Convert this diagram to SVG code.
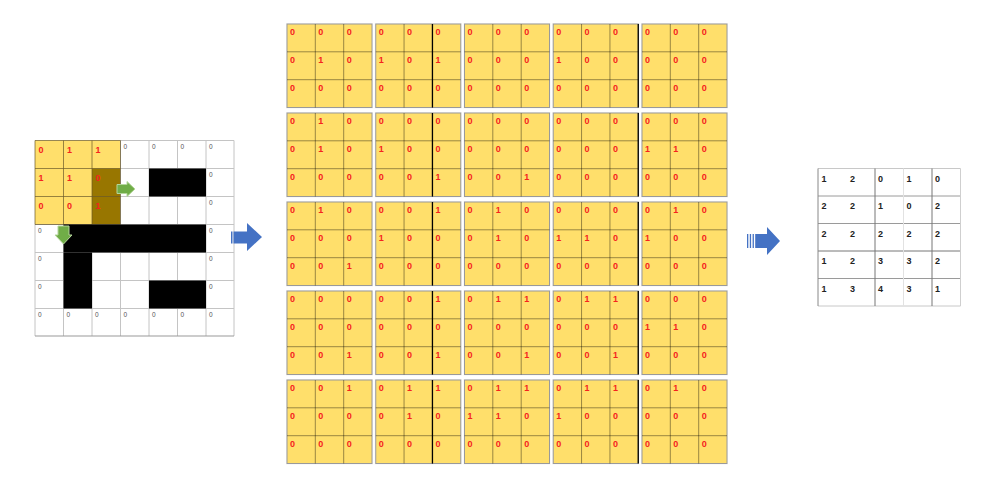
<svg xmlns="http://www.w3.org/2000/svg" xmlns:xlink="http://www.w3.org/1999/xlink" width="983" height="482" viewBox="0 0 983 482">
<style>
.r{font-family:"Liberation Sans",Arial,sans-serif;font-size:9px;font-weight:bold;fill:#f5231e}
.z{font-family:"Liberation Sans",Arial,sans-serif;font-size:6.5px;fill:#555}
.n{font-family:"Liberation Sans",Arial,sans-serif;font-size:9px;font-weight:bold;fill:#222}
.gl{stroke:#c4c4c4;stroke-width:1}
.yl{stroke:#6b5a2a;stroke-width:1;stroke-opacity:0.7}
.il{stroke:#000;stroke-opacity:0.4;stroke-width:1}
.dk{stroke:#000;stroke-width:1.3}
.ga{fill:#70ad47;stroke:#b5d69c;stroke-width:1}
.ba{fill:#4472c4}
</style>
<defs>
<g id="blk">
<rect x="-1" y="-1" width="87" height="85.5" fill="#f4f4f4"/>
<rect width="85" height="83.5" fill="#ffdf6b" stroke="#9a9a9a" stroke-width="1"/>
<line x1="28.3" y1="0" x2="28.3" y2="83.5" class="il"/>
<line x1="56.7" y1="0" x2="56.7" y2="83.5" class="il" stroke-opacity="0.25"/>
<line x1="0" y1="27.8" x2="85" y2="27.8" class="il"/>
<line x1="0" y1="55.7" x2="85" y2="55.7" class="il"/>
</g>
</defs>
<rect width="983" height="482" fill="#fff"/>

<g id="left-grid">
<rect x="35" y="140.5" width="199" height="195.5" fill="#fff"/>
<rect x="35" y="140.5" width="85.5" height="84" fill="#ffdf6b"/>
<rect x="92" y="168.5" width="28.5" height="56" fill="#987600"/>
<g class="gl">
<line x1="120.5" y1="140.5" x2="120.5" y2="336"/><line x1="149" y1="140.5" x2="149" y2="336"/>
<line x1="177.5" y1="140.5" x2="177.5" y2="336"/><line x1="206" y1="140.5" x2="206" y2="336"/>
<line x1="234" y1="140.5" x2="234" y2="336"/>
<line x1="35" y1="224.5" x2="35" y2="336"/><line x1="63.5" y1="224.5" x2="63.5" y2="336"/><line x1="92" y1="224.5" x2="92" y2="336"/>
<line x1="120.5" y1="140.5" x2="234" y2="140.5"/><line x1="120.5" y1="168.5" x2="234" y2="168.5"/>
<line x1="120.5" y1="196.5" x2="234" y2="196.5"/><line x1="35" y1="224.5" x2="234" y2="224.5"/>
<line x1="35" y1="252.5" x2="234" y2="252.5"/><line x1="35" y1="280.5" x2="234" y2="280.5"/>
<line x1="35" y1="308.5" x2="234" y2="308.5"/><line x1="35" y1="336" x2="234" y2="336" stroke="#999"/>
</g>
<g class="yl">
<line x1="35" y1="140.5" x2="35" y2="224.5"/><line x1="63.5" y1="140.5" x2="63.5" y2="224.5"/>
<line x1="92" y1="140.5" x2="92" y2="224.5"/><line x1="120.5" y1="140.5" x2="120.5" y2="224.5"/>
<line x1="35" y1="140.5" x2="120.5" y2="140.5"/><line x1="35" y1="168.5" x2="120.5" y2="168.5"/>
<line x1="35" y1="196.5" x2="120.5" y2="196.5"/><line x1="35" y1="224.5" x2="120.5" y2="224.5"/>
</g>
<g fill="#000">
<rect x="149" y="168.5" width="57" height="28"/>
<rect x="63.5" y="224.5" width="142.5" height="28"/>
<rect x="63.5" y="252.5" width="28.5" height="56"/>
<rect x="149" y="280.5" width="57" height="28"/>
</g>
<text class="r" font-size="9.5"><tspan x="38.5 67 95.5" y="152.5">011</tspan><tspan x="38.5 67 95.5" y="180.5">110</tspan><tspan x="38.5 67 95.5" y="208.5">001</tspan></text>
<text class="z">
<tspan x="123.5 152 180.5 209" y="148.5">0000</tspan>
<tspan x="209" y="176.5">0</tspan>
<tspan x="209" y="204.5">0</tspan>
<tspan x="38 209" y="232.5">00</tspan>
<tspan x="38 209" y="260.5">00</tspan>
<tspan x="38 209" y="288.5">00</tspan>
<tspan x="38 66.5 95 123.5 152 180.5 209" y="316.5">0000000</tspan>
</text>
</g>

<g id="green-arrows">
<polygon class="ga" points="117,184.5 127,184.5 127,181.5 135,189 127,196.5 127,193.5 117,193.5"/>
<polygon class="ga" points="58,226 69,226 69,235 72,235 63.5,244 55,235 58,235"/>
</g>

<g id="blue-arrow-1">
<rect class="ba" x="231" y="231.5" width="1.5" height="12"/>
<polygon class="ba" points="233.5,231.5 247,231.5 247,223 262,237 247,251 247,243.5 233.5,243.5"/>
</g>

<g id="middle-grid">
<!-- block row 0 -->
<g id="b00" transform="translate(287,24)"><use xlink:href="#blk"/><text class="r"><tspan x="3 31.3 59.7" y="11">000</tspan><tspan x="3 31.3 59.7" y="38.8">010</tspan><tspan x="3 31.3 59.7" y="66.7">000</tspan></text></g>
<g id="b01" transform="translate(375.75,24)"><use xlink:href="#blk"/><line x1="56.7" y1="0" x2="56.7" y2="83.5" class="dk"/><text class="r"><tspan x="3 31.3 59.7" y="11">000</tspan><tspan x="3 31.3 59.7" y="38.8">101</tspan><tspan x="3 31.3 59.7" y="66.7">000</tspan></text></g>
<g id="b02" transform="translate(464.5,24)"><use xlink:href="#blk"/><text class="r"><tspan x="3 31.3 59.7" y="11">000</tspan><tspan x="3 31.3 59.7" y="38.8">000</tspan><tspan x="3 31.3 59.7" y="66.7">000</tspan></text></g>
<g id="b03" transform="translate(553.25,24)"><use xlink:href="#blk"/><line x1="85" y1="0" x2="85" y2="83.5" class="dk"/><text class="r"><tspan x="3 31.3 59.7" y="11">000</tspan><tspan x="3 31.3 59.7" y="38.8">100</tspan><tspan x="3 31.3 59.7" y="66.7">000</tspan></text></g>
<g id="b04" transform="translate(642,24)"><use xlink:href="#blk"/><text class="r"><tspan x="3 31.3 59.7" y="11">000</tspan><tspan x="3 31.3 59.7" y="38.8">000</tspan><tspan x="3 31.3 59.7" y="66.7">000</tspan></text></g>
<!-- block row 1 -->
<g id="b10" transform="translate(287,113)"><use xlink:href="#blk"/><text class="r"><tspan x="3 31.3 59.7" y="11">010</tspan><tspan x="3 31.3 59.7" y="38.8">010</tspan><tspan x="3 31.3 59.7" y="66.7">000</tspan></text></g>
<g id="b11" transform="translate(375.75,113)"><use xlink:href="#blk"/><line x1="56.7" y1="0" x2="56.7" y2="83.5" class="dk"/><text class="r"><tspan x="3 31.3 59.7" y="11">000</tspan><tspan x="3 31.3 59.7" y="38.8">100</tspan><tspan x="3 31.3 59.7" y="66.7">001</tspan></text></g>
<g id="b12" transform="translate(464.5,113)"><use xlink:href="#blk"/><text class="r"><tspan x="3 31.3 59.7" y="11">000</tspan><tspan x="3 31.3 59.7" y="38.8">000</tspan><tspan x="3 31.3 59.7" y="66.7">001</tspan></text></g>
<g id="b13" transform="translate(553.25,113)"><use xlink:href="#blk"/><line x1="85" y1="0" x2="85" y2="83.5" class="dk"/><text class="r"><tspan x="3 31.3 59.7" y="11">000</tspan><tspan x="3 31.3 59.7" y="38.8">000</tspan><tspan x="3 31.3 59.7" y="66.7">000</tspan></text></g>
<g id="b14" transform="translate(642,113)"><use xlink:href="#blk"/><text class="r"><tspan x="3 31.3 59.7" y="11">000</tspan><tspan x="3 31.3 59.7" y="38.8">110</tspan><tspan x="3 31.3 59.7" y="66.7">000</tspan></text></g>
<!-- block row 2 -->
<g id="b20" transform="translate(287,202)"><use xlink:href="#blk"/><text class="r"><tspan x="3 31.3 59.7" y="11">010</tspan><tspan x="3 31.3 59.7" y="38.8">000</tspan><tspan x="3 31.3 59.7" y="66.7">001</tspan></text></g>
<g id="b21" transform="translate(375.75,202)"><use xlink:href="#blk"/><line x1="56.7" y1="0" x2="56.7" y2="83.5" class="dk"/><text class="r"><tspan x="3 31.3 59.7" y="11">001</tspan><tspan x="3 31.3 59.7" y="38.8">100</tspan><tspan x="3 31.3 59.7" y="66.7">000</tspan></text></g>
<g id="b22" transform="translate(464.5,202)"><use xlink:href="#blk"/><text class="r"><tspan x="3 31.3 59.7" y="11">010</tspan><tspan x="3 31.3 59.7" y="38.8">010</tspan><tspan x="3 31.3 59.7" y="66.7">000</tspan></text></g>
<g id="b23" transform="translate(553.25,202)"><use xlink:href="#blk"/><line x1="85" y1="0" x2="85" y2="83.5" class="dk"/><text class="r"><tspan x="3 31.3 59.7" y="11">000</tspan><tspan x="3 31.3 59.7" y="38.8">110</tspan><tspan x="3 31.3 59.7" y="66.7">000</tspan></text></g>
<g id="b24" transform="translate(642,202)"><use xlink:href="#blk"/><text class="r"><tspan x="3 31.3 59.7" y="11">010</tspan><tspan x="3 31.3 59.7" y="38.8">100</tspan><tspan x="3 31.3 59.7" y="66.7">000</tspan></text></g>
<!-- block row 3 -->
<g id="b30" transform="translate(287,291)"><use xlink:href="#blk"/><text class="r"><tspan x="3 31.3 59.7" y="11">000</tspan><tspan x="3 31.3 59.7" y="38.8">000</tspan><tspan x="3 31.3 59.7" y="66.7">001</tspan></text></g>
<g id="b31" transform="translate(375.75,291)"><use xlink:href="#blk"/><line x1="56.7" y1="0" x2="56.7" y2="83.5" class="dk"/><text class="r"><tspan x="3 31.3 59.7" y="11">001</tspan><tspan x="3 31.3 59.7" y="38.8">000</tspan><tspan x="3 31.3 59.7" y="66.7">001</tspan></text></g>
<g id="b32" transform="translate(464.5,291)"><use xlink:href="#blk"/><text class="r"><tspan x="3 31.3 59.7" y="11">011</tspan><tspan x="3 31.3 59.7" y="38.8">000</tspan><tspan x="3 31.3 59.7" y="66.7">001</tspan></text></g>
<g id="b33" transform="translate(553.25,291)"><use xlink:href="#blk"/><line x1="85" y1="0" x2="85" y2="83.5" class="dk"/><text class="r"><tspan x="3 31.3 59.7" y="11">011</tspan><tspan x="3 31.3 59.7" y="38.8">000</tspan><tspan x="3 31.3 59.7" y="66.7">001</tspan></text></g>
<g id="b34" transform="translate(642,291)"><use xlink:href="#blk"/><text class="r"><tspan x="3 31.3 59.7" y="11">000</tspan><tspan x="3 31.3 59.7" y="38.8">110</tspan><tspan x="3 31.3 59.7" y="66.7">000</tspan></text></g>
<!-- block row 4 -->
<g id="b40" transform="translate(287,380)"><use xlink:href="#blk"/><text class="r"><tspan x="3 31.3 59.7" y="11">001</tspan><tspan x="3 31.3 59.7" y="38.8">000</tspan><tspan x="3 31.3 59.7" y="66.7">000</tspan></text></g>
<g id="b41" transform="translate(375.75,380)"><use xlink:href="#blk"/><line x1="56.7" y1="0" x2="56.7" y2="83.5" class="dk"/><text class="r"><tspan x="3 31.3 59.7" y="11">011</tspan><tspan x="3 31.3 59.7" y="38.8">010</tspan><tspan x="3 31.3 59.7" y="66.7">000</tspan></text></g>
<g id="b42" transform="translate(464.5,380)"><use xlink:href="#blk"/><text class="r"><tspan x="3 31.3 59.7" y="11">011</tspan><tspan x="3 31.3 59.7" y="38.8">110</tspan><tspan x="3 31.3 59.7" y="66.7">000</tspan></text></g>
<g id="b43" transform="translate(553.25,380)"><use xlink:href="#blk"/><line x1="85" y1="0" x2="85" y2="83.5" class="dk"/><text class="r"><tspan x="3 31.3 59.7" y="11">011</tspan><tspan x="3 31.3 59.7" y="38.8">100</tspan><tspan x="3 31.3 59.7" y="66.7">000</tspan></text></g>
<g id="b44" transform="translate(642,380)"><use xlink:href="#blk"/><text class="r"><tspan x="3 31.3 59.7" y="11">010</tspan><tspan x="3 31.3 59.7" y="38.8">000</tspan><tspan x="3 31.3 59.7" y="66.7">000</tspan></text></g>
</g>

<g id="blue-arrow-2">
<rect class="ba" x="747" y="234" width="1.3" height="14"/>
<rect class="ba" x="749.8" y="234" width="1.3" height="14"/>
<rect class="ba" x="752.6" y="234" width="1.3" height="14"/>
<polygon class="ba" points="755.2,234 767,234 767,227 780,241 767,255 767,248 755.2,248"/>
</g>

<g id="right-grid">
<g stroke-width="1">
<line x1="818" y1="168.5" x2="960.5" y2="168.5" stroke="#c8c8c8"/>
<line x1="818" y1="196" x2="960.5" y2="196" stroke="#9a9a9a"/>
<line x1="818" y1="223.5" x2="960.5" y2="223.5" stroke="#9a9a9a"/>
<line x1="818" y1="251" x2="960.5" y2="251" stroke="#777"/>
<line x1="818" y1="278.5" x2="960.5" y2="278.5" stroke="#9a9a9a"/>
<line x1="818" y1="306" x2="960.5" y2="306" stroke="#c8c8c8"/>
<line x1="818" y1="168.5" x2="818" y2="306" stroke="#888"/>
<line x1="875" y1="168.5" x2="875" y2="306" stroke="#777"/>
<line x1="903.5" y1="168.5" x2="903.5" y2="306" stroke="#e2e2e2"/>
<line x1="932" y1="168.5" x2="932" y2="306" stroke="#777"/>
<line x1="960.5" y1="168.5" x2="960.5" y2="306" stroke="#cfcfcf"/>
</g>
<text class="n">
<tspan x="821.5 850 878 906.5 935" y="181.5">12010</tspan>
<tspan x="821.5 850 878 906.5 935" y="209">22102</tspan>
<tspan x="821.5 850 878 906.5 935" y="236.5">22222</tspan>
<tspan x="821.5 850 878 906.5 935" y="264">12332</tspan>
<tspan x="821.5 850 878 906.5 935" y="291.5">13431</tspan>
</text>
</g>
</svg>
